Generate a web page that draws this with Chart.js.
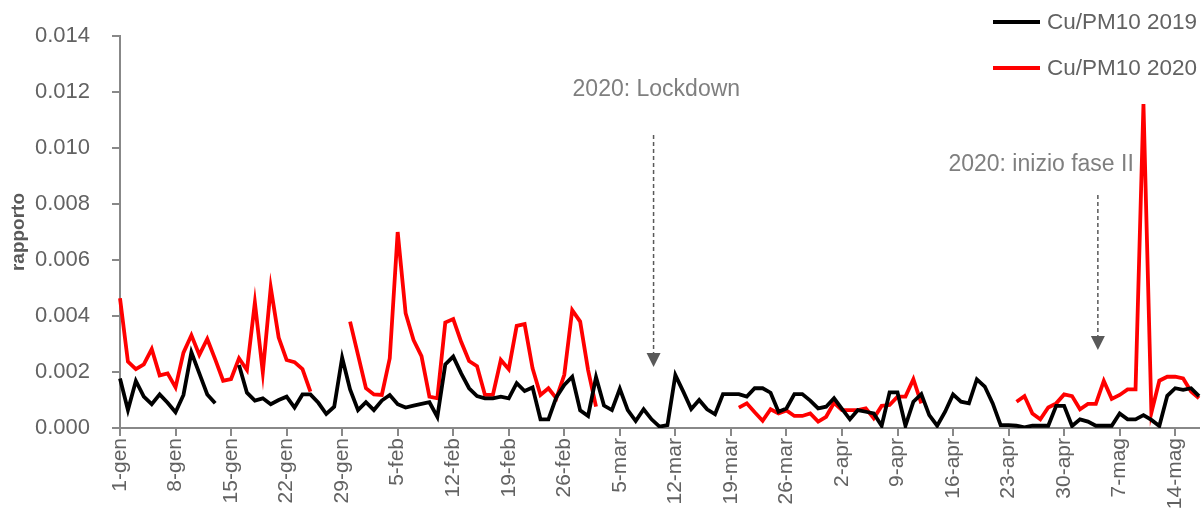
<!DOCTYPE html>
<html>
<head>
<meta charset="utf-8">
<script src="https://cdn.jsdelivr.net/npm/chart.js@4.4.1/dist/chart.umd.min.js"></script>
<style>
  body { margin: 0; background: #fff; }
</style>
</head>
<body>
<canvas id="cuChart" width="1202" height="520"></canvas>
<script>
// asse x: giorni dal 1-gen al 17-mag (calendario 2019)
const MONTHS = ['gen', 'feb', 'mar', 'apr', 'mag'];
const MONTH_DAYS = [31, 28, 31, 30, 17];
const LABEL_STEP = 7;

const categories = [];
for (let m = 0; m < MONTHS.length; m++) {
	for (let d = 1; d <= MONTH_DAYS[m]; d++) {
		categories.push(d + '-' + MONTHS[m]);
	}
}

const cu2019 = [
	0.00177, 0.00064, 0.00168, 0.00112, 0.00085, 0.0012, 0.0009, 0.00056, 0.00118, 0.0027,
	0.00195, 0.0012, 0.00088, null, null, 0.00225, 0.00126, 0.00098, 0.00106, 0.00085,
	0.001, 0.00112, 0.00073, 0.0012, 0.0012, 0.0009, 0.0005, 0.00076, 0.00251, 0.00138,
	0.00064, 0.00092, 0.00064, 0.00098, 0.00118, 0.00085, 0.00073, 0.0008, 0.00086, 0.00092,
	0.0004, 0.00227, 0.00255, 0.00195, 0.00142, 0.00114, 0.00106, 0.00106, 0.00112, 0.00106,
	0.0016, 0.00132, 0.00145, 0.00031, 0.00031, 0.0011, 0.00154, 0.00183, 0.00063, 0.00043,
	0.00182, 0.0008, 0.00064, 0.0014, 0.00064, 0.00025, 0.00067, 0.00031, 0.00005, 0.0001,
	0.00189, 0.0013, 0.00068, 0.001, 0.00067, 0.00049, 0.00121, 0.00121, 0.00121, 0.00112,
	0.00142, 0.00142, 0.00126, 0.00058, 0.0007, 0.00121, 0.00121, 0.00098, 0.0007, 0.00076,
	0.00106, 0.00068, 0.00031, 0.00064, 0.00058, 0.00052, 0.00008, 0.00127, 0.00127, 0.00008,
	0.00094, 0.00121, 0.00046, 0.00008, 0.00058, 0.0012, 0.00094, 0.00088, 0.00174, 0.00148,
	0.00088, 0.0001, 0.0001, 0.00008, 0.00002, 0.00008, 0.00008, 0.00008, 0.00079, 0.00079,
	0.00007, 0.00031, 0.00023, 0.00008, 0.00008, 0.00008, 0.00052, 0.00031, 0.00031, 0.00046,
	0.00029, 0.00007, 0.00115, 0.00142, 0.00136, 0.00142, 0.00114
];

const cu2020 = [
	0.00463, 0.00237, 0.0021, 0.00227, 0.00282, 0.00188, 0.00195, 0.00145, 0.00269, 0.00331,
	0.00261, 0.00318, 0.00245, 0.00169, 0.00175, 0.00249, 0.00207, 0.00448, 0.00199, 0.00502,
	0.00323, 0.00243, 0.00235, 0.0021, 0.0013, null, null, null, null, 0.0038,
	0.00261, 0.00142, 0.0012, 0.00118, 0.00249, 0.007, 0.0041, 0.00314, 0.00257, 0.00112,
	0.00106, 0.00377, 0.00389, 0.00308, 0.00239, 0.00221, 0.00118, 0.00118, 0.00243, 0.0021,
	0.00365, 0.00371, 0.00213, 0.00118, 0.00142, 0.00106, 0.0019, 0.00421, 0.0038, 0.00207,
	0.00076, null, null, null, null, null, null, null, null, null,
	null, null, null, null, null, null, null, null, 0.00073, 0.00088,
	0.00056, 0.00026, 0.00067, 0.00052, 0.00063, 0.00043, 0.00043, 0.00052, 0.00023, 0.0004,
	0.0009, 0.00064, 0.00064, 0.00064, 0.0007, 0.00035, 0.00079, 0.00082, 0.00112, 0.00112,
	0.00174, 0.00088, null, null, null, null, null, null, null, null,
	null, null, null, 0.00094, 0.00114, 0.00052, 0.00031, 0.00073, 0.00088, 0.0012,
	0.00114, 0.00067, 0.00086, 0.00086, 0.00168, 0.00104, 0.00118, 0.00138, 0.00138, 0.01157,
	0.00055, 0.00169, 0.00183, 0.00183, 0.00177, 0.0013, 0.00106
];

const Y_MIN = 0;
const Y_MAX = 0.014;
const Y_STEP = 0.002;

// note sul grafico: [testo, indice centro testo, y testo, indice freccia, y inizio freccia, y punta freccia]
const notes = [
	['2020: Lockdown', 67.6, 0.01207, 67, 0.01046, 0.00218],
	['2020: inizio fase II', 116.1, 0.0094, 123, 0.00832, 0.00279]
];

const FONT = '"Liberation Sans", Arial, sans-serif';
const TEXT_GREY = '#626262';
const AXIS_GREY = '#888888';

const extrasPlugin = {
	id: 'extras',
	afterDraw(chart) {
		const ctx = chart.ctx;
		const xs = chart.scales.x;
		const ys = chart.scales.y;
		ctx.save();

		// frecce tratteggiate con testo
		notes.forEach(function(n) {
			ctx.fillStyle = '#7f7f7f';
			ctx.font = '23px ' + FONT;
			ctx.textAlign = 'center';
			ctx.textBaseline = 'middle';
			ctx.fillText(n[0], xs.getPixelForValue(n[1]), ys.getPixelForValue(n[2]));

			let x = xs.getPixelForValue(n[3]) + 2;
			let y0 = ys.getPixelForValue(n[4]);
			let y1 = ys.getPixelForValue(n[5]);
			ctx.strokeStyle = '#595959';
			ctx.lineWidth = 1.5;
			ctx.setLineDash([4, 3]);
			ctx.beginPath();
			ctx.moveTo(x, y0);
			ctx.lineTo(x, y1 - 12);
			ctx.stroke();
			ctx.setLineDash([]);
			ctx.fillStyle = '#595959';
			ctx.beginPath();
			ctx.moveTo(x - 7, y1 - 14);
			ctx.lineTo(x + 7, y1 - 14);
			ctx.lineTo(x, y1);
			ctx.closePath();
			ctx.fill();
		});

		// legenda in alto a destra
		chart.data.datasets.forEach(function(ds, i) {
			let ly = 22 + i * 46;
			ctx.strokeStyle = ds.borderColor;
			ctx.lineWidth = 4;
			ctx.beginPath();
			ctx.moveTo(993, ly);
			ctx.lineTo(1040, ly);
			ctx.stroke();
			ctx.fillStyle = TEXT_GREY;
			ctx.font = '22.5px ' + FONT;
			ctx.textAlign = 'left';
			ctx.textBaseline = 'middle';
			ctx.fillText(ds.label, 1047, ly + 1);
		});
		ctx.restore();
	}
};

const chart = new Chart(document.getElementById('cuChart').getContext('2d'), {
	type: 'line',
	data: {
		labels: categories,
		datasets: [{
			label: 'Cu/PM10 2019',
			data: cu2019,
			borderColor: '#000000',
			borderWidth: 3.8,
			pointRadius: 0,
			tension: 0,
			spanGaps: false
		},
		{
			label: 'Cu/PM10 2020',
			data: cu2020,
			borderColor: '#ff0000',
			borderWidth: 3.8,
			pointRadius: 0,
			tension: 0,
			spanGaps: false
		}]
	},
	options: {
		responsive: false,
		animation: false,
		layout: {
			padding: { top: 36, right: 3, left: 0, bottom: 0 }
		},
		plugins: {
			legend: { display: false },
			tooltip: { enabled: false }
		},
		scales: {
			x: {
				type: 'category',
				offset: false,
				border: { color: AXIS_GREY, width: 2 },
				grid: {
					drawOnChartArea: false,
					drawTicks: true,
					tickLength: 8,
					lineWidth: 2,
					color: function(c) { return c.index % LABEL_STEP === 0 ? AXIS_GREY : 'rgba(0,0,0,0)'; }
				},
				ticks: {
					autoSkip: false,
					maxRotation: 90,
					minRotation: 90,
					padding: 2,
					color: TEXT_GREY,
					font: { family: FONT, size: 21 },
					callback: function(v, i) { return i % LABEL_STEP === 0 ? categories[i] : ''; }
				},
				afterFit: function(s) {
					s.height = 92;
					s.paddingLeft = 0;
					s.paddingRight = 0;
				}
			},
			y: {
				min: Y_MIN,
				max: Y_MAX,
				border: { color: AXIS_GREY, width: 2 },
				grid: {
					drawOnChartArea: false,
					drawTicks: true,
					tickLength: 8,
					lineWidth: 2,
					color: AXIS_GREY
				},
				ticks: {
					stepSize: Y_STEP,
					padding: 22,
					color: TEXT_GREY,
					font: { family: FONT, size: 22 },
					callback: function(v) { return v.toFixed(3); }
				},
				title: {
					display: true,
					text: 'rapporto',
					color: '#595959',
					padding: { top: 7, bottom: 0 },
					font: { family: FONT, size: 19, weight: 'bold' }
				},
				afterFit: function(s) { s.width = 120; }
			}
		}
	},
	plugins: [extrasPlugin]
});
</script>
</body>
</html>
